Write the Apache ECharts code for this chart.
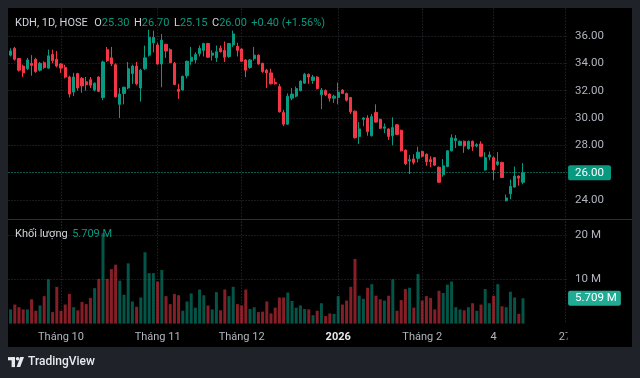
<!DOCTYPE html>
<html><head><meta charset="utf-8">
<script src="https://cdn.jsdelivr.net/npm/echarts@6/dist/echarts.min.js"></script>
<style>html,body{margin:0;padding:0;background:#1f2229;}#c{width:640px;height:378px;}</style>
</head><body><div id="c"></div>
<script>
// ---- data ----
const symbolName = 'KDH, 1D, HOSE';
const startDate = '2025-09-15';
const holidays = ['2026-01-01','2026-01-02','2026-02-16','2026-02-17','2026-02-18','2026-02-19','2026-02-20'];
const totalSlots = 133; // trading-day slots incl. empty future space
const opens  = [34.6,35.1,34.35,33.8,33.6,34.0,34.3,33.5,34.05,33.65,34.65,34.3,33.95,33.7,33.0,31.9,33.25,32.9,32.65,32.8,32.05,33.0,31.5,35.0,34.4,33.9,31.0,31.8,32.2,33.25,33.8,32.2,33.6,34.6,35.5,35.35,33.95,35.4,35.0,34.0,32.1,32.05,33.1,34.15,34.25,34.7,34.95,35.45,34.6,34.4,35.1,34.95,34.5,35.35,35.25,35.05,34.25,33.7,34.35,34.6,34.0,33.5,33.3,32.6,32.3,30.4,29.55,31.45,31.6,32.0,32.55,33.2,32.75,33.0,31.7,32.0,31.75,31.45,31.5,32.05,31.8,31.5,30.5,28.65,29.9,30.0,28.7,30.4,29.9,29.25,29.2,28.7,29.5,29.1,27.65,26.85,27.0,27.05,27.55,27.35,26.95,27.1,26.4,25.85,26.45,27.6,28.35,28.0,28.3,27.75,28.3,27.95,28.1,26.2,27.15,27.1,26.6,26.75,23.95,24.45,24.95,25.75,25.3];
const closes = [34.9,34.3,33.5,33.3,34.25,33.85,33.4,34.0,33.7,34.55,34.2,33.8,33.65,33.0,31.75,33.0,32.2,32.35,32.45,32.4,32.55,31.95,34.1,34.2,33.95,31.55,31.75,32.25,33.6,33.8,32.5,33.5,34.4,35.9,35.9,33.95,35.7,34.9,34.05,32.45,31.95,33.05,34.15,34.45,34.65,35.1,35.45,34.45,34.75,34.85,34.85,34.45,35.45,36.15,34.95,34.15,33.5,34.25,34.6,33.95,33.4,33.3,32.5,32.5,30.45,29.55,31.6,31.75,32.15,32.7,33.2,33.0,33.0,32.15,32.05,31.7,31.45,31.6,31.9,31.8,31.3,30.45,28.55,29.2,30.0,29.0,30.1,29.7,29.25,29.35,28.65,29.3,28.8,27.6,26.65,26.95,26.75,27.5,27.2,26.8,26.8,26.55,25.3,26.5,27.6,28.55,28.5,28.3,27.95,28.3,27.9,28.05,27.2,27.1,27.3,26.2,26.8,25.65,24.15,25.0,25.75,25.6,26.0];
const lows   = [34.5,34.2,33.4,33.0,33.5,33.1,33.3,33.4,33.6,33.6,34.0,33.7,33.3,32.9,31.5,31.6,32.0,31.85,32.0,32.2,31.95,31.9,31.3,34.1,33.8,31.5,30.0,31.0,32.1,32.5,32.4,31.2,33.5,34.5,34.8,33.9,32.25,34.4,34.0,32.4,31.4,32.0,32.9,33.9,34.0,34.5,34.5,34.4,34.2,34.1,34.8,34.1,34.4,35.2,34.5,34.1,33.0,33.6,34.2,33.9,33.3,32.2,32.45,32.45,30.4,29.4,29.5,31.3,31.5,31.95,32.5,32.5,32.5,32.1,30.65,31.6,31.2,31.1,31.0,31.75,31.2,30.3,28.5,28.1,29.4,28.7,28.65,29.65,29.2,28.9,28.4,28.0,28.75,27.55,26.55,25.9,26.6,26.75,27.1,26.5,26.4,26.5,25.25,25.7,26.4,27.55,27.8,27.95,27.45,27.7,27.6,27.85,27.15,26.15,26.9,25.45,26.5,25.6,23.9,24.05,24.9,25.05,25.15];
const highs  = [35.1,35.2,34.4,33.9,34.4,34.6,34.4,34.1,34.15,35.0,35.0,34.9,34.0,33.9,33.1,33.3,33.3,33.0,33.0,33.0,32.6,33.05,34.2,35.2,35.2,34.0,32.2,32.3,34.1,33.9,34.1,33.6,35.3,36.45,36.4,35.5,36.15,35.4,35.1,34.1,32.5,33.1,34.2,35.2,34.8,35.3,35.5,35.5,34.95,35.3,35.3,35.6,35.5,36.4,35.5,35.1,34.3,34.3,35.2,34.65,34.05,33.6,33.6,32.9,32.5,30.6,31.8,32.2,32.3,32.75,33.3,33.25,33.15,33.05,32.2,32.1,31.8,31.7,32.6,32.1,31.85,31.55,30.55,29.7,30.05,30.2,30.3,31.0,29.95,29.6,29.25,30.05,29.55,29.15,27.7,27.3,27.35,27.9,27.6,27.4,27.2,27.15,26.45,27.0,27.65,28.8,28.75,28.35,28.35,28.35,28.35,28.15,28.3,27.5,27.55,27.2,27.5,26.8,24.4,25.5,26.45,25.8,26.7];
const volumes = [3.2,4.3,3.7,3.2,3.2,5.5,2.9,4.1,6.2,10.0,2.6,8.3,2.9,4.3,6.7,3.7,3.0,4.9,4.4,5.8,8.0,10.1,20.4,10.1,12.3,13.3,9.7,6.5,13.6,5.0,3.8,5.9,16.1,11.4,11.4,9.5,12.1,6.2,4.4,6.7,6.4,2.9,5.0,6.8,3.6,7.7,6.4,4.1,3.2,7.1,3.0,7.7,6.2,8.3,4.4,4.1,7.7,3.3,3.7,2.6,2.7,5.0,2.3,3.6,5.9,5.9,7.0,5.1,3.6,4.1,3.3,3.2,1.9,2.9,4.6,1.7,2.3,2.2,6.2,4.3,5.2,8.3,14.6,6.3,5.6,8.1,8.9,6.3,5.5,5.2,6.3,10.0,2.9,5.3,7.8,8.1,3.6,11.2,5.2,6.2,5.8,3.2,7.4,6.9,8.8,9.5,3.7,3.2,3.0,3.7,4.6,2.9,4.3,7.8,4.6,6.3,8.9,3.9,3.7,7.2,5.9,2.2,5.709];
const tickDates  = ['2025-10-01','2025-11-03','2025-12-01','2026-01-05','2026-02-02','2026-03-04','2026-03-27'];
const tickLabels = ['Tháng 10','Tháng 11','Tháng 12','2026','Tháng 2','4','27'];
const priceTicks = {min: 22, max: 38, step: 2};
const volTicks = {min: 0, max: 23, step: 10};

// ---- build ----
function fmt(d){const m=d.getUTCMonth()+1, dd=d.getUTCDate();return d.getUTCFullYear()+'-'+(m<10?'0':'')+m+'-'+(dd<10?'0':'')+dd;}
const dates = [];
{ let d = new Date(startDate+'T00:00:00Z');
  while (dates.length < totalSlots) {
    const wd = d.getUTCDay(), s = fmt(d);
    if (wd !== 0 && wd !== 6 && holidays.indexOf(s) < 0) dates.push(s);
    d = new Date(d.getTime() + 86400000);
  } }
const tickIdx = tickDates.map(t => dates.indexOf(t));
const UP = '#089981', DOWN = '#f23645';
const candleData = opens.map((o,i) => [o, closes[i], lows[i], highs[i]]);
const volData = volumes.map((v,i) => ({value: v, itemStyle: {color: closes[i] >= opens[i] ? 'rgba(8,153,129,0.55)' : 'rgba(242,54,69,0.55)'}}));
const n = closes.length;
const lastO = opens[n-1], lastH = highs[n-1], lastL = lows[n-1], lastC = closes[n-1];
const chg = lastC - closes[n-2], pct = chg / closes[n-2] * 100;
const legendColor = lastC >= lastO ? 'v' : 'r';
const lastVol = volumes[n-1];
const font = 'Roboto, "Noto Sans", sans-serif';
const gridCol = '#30333c';
const L = 8.5, R = 72.9;
const rs = (c) => ({color: c, fontSize: 11, fontWeight: 'normal', fontFamily: font});
const gap = '{g| }', gap1 = '{g1| }';

const chart = echarts.init(document.getElementById('c'), null, {renderer: 'canvas'});
const valueX = (gi, showLabels) => ({
  type: 'value', gridIndex: gi, position: 'bottom', min: -0.5, max: totalSlots - 0.5,
  axisLine: {show: false},
  axisTick: {show: false, customValues: tickIdx},
  axisLabel: {show: showLabels, customValues: tickIdx, color: '#b2b5be', fontSize: 11, fontFamily: font, margin: 8,
    formatter: v => { const k = tickIdx.indexOf(Math.round(v)); const s = k >= 0 ? tickLabels[k] : ''; return /^\d{4}$/.test(s) ? '{b|' + s + '}' : s; },
    rich: {b: {fontWeight: 'bold', color: '#e8e9ec', fontSize: 11, fontFamily: font}}},
  splitLine: {show: true, lineStyle: {color: gridCol, type: [1, 2], width: 1}}
});
const catX = gi => ({type: 'category', gridIndex: gi, data: dates, boundaryGap: true, position: 'top',
  axisLine: {show: false}, axisTick: {show: false}, axisLabel: {show: false}, splitLine: {show: false}});
const richBase = {n: rs('#d1d4dc'), k: rs('#d1d4dc'), v: rs(UP), r: rs(DOWN), g: {fontSize: 11, width: 4.5}, g1: {fontSize: 11, width: 6.5}};

chart.setOption({
  backgroundColor: '#1f2229',
  animation: false,
  textStyle: {fontFamily: font},
  title: [
    {left: 15, top: 18, padding: 0, text:
      '{n|' + symbolName + '}' + gap1 + '{k|O}{' + legendColor + '|' + lastO.toFixed(2) + '}' + gap + '{k|H}{' + legendColor + '|' + lastH.toFixed(2) + '}' + gap + '{k|L}{' + legendColor + '|' + lastL.toFixed(2) + '}' + gap + '{k|C}{' + legendColor + '|' + lastC.toFixed(2) + '}' + gap + '{' + legendColor + '|' + (chg >= 0 ? '+' : '') + chg.toFixed(2) + ' (' + (pct >= 0 ? '+' : '') + pct.toFixed(2) + '%)}',
      textStyle: {fontWeight: 'normal', fontSize: 11, rich: richBase}},
    {left: 15, top: 229, padding: 0, text: '{k|Khối lượng}' + gap + '{v|' + lastVol.toFixed(3) + ' M}',
      textStyle: {fontWeight: 'normal', fontSize: 11, rich: richBase}}
  ],
  graphic: [
    {type: 'rect', z: -10, silent: true, shape: {x: 8, y: 8, width: 624, height: 339}, style: {fill: '#000000'}},
    {type: 'line', z: 50, silent: true, shape: {x1: 8, y1: 219.5, x2: 632, y2: 219.5}, style: {stroke: '#2c2f37', lineWidth: 1}},
    {type: 'rect', z: 60, silent: true, shape: {x: 567.5, y: 326, width: 64, height: 20}, style: {fill: '#000000'}},
    // TradingView logo
    {type: 'group', left: 8, top: 357, silent: true, children: [
      {type: 'rect', shape: {x: 0, y: 0, width: 7, height: 3.2}, style: {fill: '#e8e9ec'}},
      {type: 'rect', shape: {x: 3.6, y: 0, width: 3.4, height: 10}, style: {fill: '#e8e9ec'}},
      {type: 'circle', shape: {cx: 9.6, cy: 1.7, r: 1.8}, style: {fill: '#e8e9ec'}},
      {type: 'polygon', shape: {points: [[12.2, 0], [16, 0], [12.2, 10], [8.6, 10]]}, style: {fill: '#e8e9ec'}}
    ]},
    {type: 'text', left: 28, top: 356, silent: true, style: {text: 'TradingView', fill: '#e8e9ec', font: '500 12px ' + font}}
  ],
  grid: [
    {left: L, right: R, top: 8.67, height: 218.67},
    {left: L, right: R, top: 221.7, height: 101.9}
  ],
  xAxis: [catX(0), catX(1), valueX(0, false), valueX(1, true)],
  yAxis: [
    {type: 'value', gridIndex: 0, position: 'right', min: priceTicks.min, max: priceTicks.max, interval: priceTicks.step,
      axisLine: {show: false}, axisTick: {show: false},
      axisLabel: {color: '#b2b5be', fontSize: 11.5, fontFamily: font, margin: 8, showMinLabel: false, showMaxLabel: false, formatter: v => v.toFixed(2)},
      splitLine: {show: true, showMinLine: false, showMaxLine: false, lineStyle: {color: gridCol, type: [1, 2]}}},
    {type: 'value', gridIndex: 1, position: 'right', min: volTicks.min, max: volTicks.max, interval: volTicks.step,
      axisLine: {show: false}, axisTick: {show: false},
      axisLabel: {color: '#b2b5be', fontSize: 11.5, fontFamily: font, margin: 8, showMinLabel: false, showMaxLabel: false, formatter: v => v + ' M'},
      splitLine: {show: true, showMinLine: false, showMaxLine: false, lineStyle: {color: gridCol, type: [1, 2]}}}
  ],
  series: [
    {type: 'candlestick', xAxisIndex: 0, yAxisIndex: 0, data: candleData, barWidth: 2.6, clip: false,
      itemStyle: {color: UP, color0: DOWN, borderColor: UP, borderColor0: DOWN, borderColorDoji: UP, borderWidth: 1},
      markLine: {silent: true, symbol: ['none', 'none'], animation: false,
        data: [{yAxis: lastC}],
        lineStyle: {color: UP, type: [1, 2], width: 1},
        label: {show: true, position: 'end', distance: 1, formatter: () => lastC.toFixed(2), color: '#ffffff', backgroundColor: UP,
          fontSize: 11.5, fontFamily: font, padding: [2, 7, 1, 7], borderRadius: 2}}},
    {type: 'bar', xAxisIndex: 1, yAxisIndex: 1, data: volData, barWidth: 3, clip: false,
      markLine: {silent: true, symbol: ['none', 'none'], animation: false,
        data: [{yAxis: lastVol}],
        lineStyle: {color: 'rgba(0,0,0,0)', width: 0},
        label: {show: true, position: 'end', distance: 1, formatter: () => lastVol.toFixed(3) + ' M', color: '#ffffff', backgroundColor: '#22ab94',
          fontSize: 11.5, fontFamily: font, padding: [2, 4, 1, 7], borderRadius: 2}}}
  ]
});
</script></body></html>
